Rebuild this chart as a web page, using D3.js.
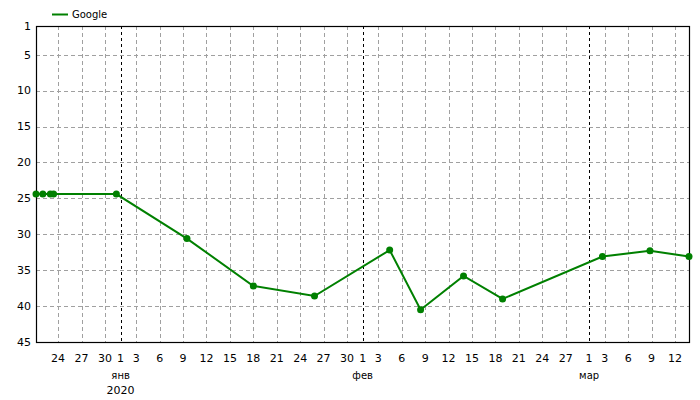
<!DOCTYPE html>
<html><head><meta charset="utf-8">
<script src="https://cdn.jsdelivr.net/npm/d3@7"></script>
<style>body{margin:0;background:#fff;} text{font-family:"DejaVu Sans",Verdana,sans-serif;}</style>
</head><body><svg id="c" width="700" height="400"></svg>
<script>
const seriesName = "Google";
const dates = ["2019-12-21T04:00","2019-12-22T01:00","2019-12-23T00:00","2019-12-23T10:00","2019-12-31T11:00",
  "2020-01-09T12:00","2020-01-18T00:00","2020-01-25T20:00","2020-02-04T11:00","2020-02-08T10:00",
  "2020-02-13T22:00","2020-02-18T22:00","2020-03-02T17:00","2020-03-08T19:00","2020-03-13T19:00"];
const positions = [24.4,24.4,24.4,24.4,24.4,30.6,37.2,38.6,32.2,40.5,35.8,39.0,33.1,32.3,33.1];
const yTicks = [1,5,10,15,20,25,30,35,40,45];
const xTickDates = ["2019-12-24","2019-12-27","2019-12-30","2020-01-01","2020-01-03","2020-01-06","2020-01-09","2020-01-12","2020-01-15","2020-01-18","2020-01-21","2020-01-24","2020-01-27","2020-01-30","2020-02-01","2020-02-03","2020-02-06","2020-02-09","2020-02-12","2020-02-15","2020-02-18","2020-02-21","2020-02-24","2020-02-27","2020-03-01","2020-03-03","2020-03-06","2020-03-09","2020-03-12"];
const monthStarts = ["2020-01-01","2020-02-01","2020-03-01"];
const monthLabels = ["янв","фев","мар"];
const yearLabel = "2020";

const parse = d3.timeParse("%Y-%m-%dT%H:%M");
const parseD = d3.timeParse("%Y-%m-%d");
const data = dates.map((d,i)=>({t:parse(d), v:positions[i]}));
const ticks = xTickDates.map(parseD);
const months = monthStarts.map(parseD);

const L=36,R=689,T=26,B=342;
const svg=d3.select("#c");
const x=d3.scaleTime().domain(d3.extent(data,d=>d.t)).range([L,R]);
const y=d3.scaleLinear().domain([1,45]).range([T,B]);

// horizontal grid
svg.append("g").selectAll("line").data(yTicks.filter(v=>v!==1&&v!==45)).join("line")
  .attr("x1",L).attr("x2",R).attr("y1",d=>Math.round(y(d))+0.5).attr("y2",d=>Math.round(y(d))+0.5)
  .attr("stroke","#a0a0a0").attr("stroke-dasharray","4,3");
// vertical grid
const isMonth = d=>months.some(m=>+m===+d);
svg.append("g").selectAll("line").data(ticks.filter(d=>!isMonth(d))).join("line")
  .attr("x1",d=>Math.round(x(d))+0.5).attr("x2",d=>Math.round(x(d))+0.5).attr("y1",T).attr("y2",B)
  .attr("stroke","#a0a0a0").attr("stroke-dasharray","4,3");
svg.append("g").selectAll("line").data(months).join("line")
  .attr("x1",d=>Math.round(x(d))+0.5).attr("x2",d=>Math.round(x(d))+0.5).attr("y1",T).attr("y2",B)
  .attr("stroke","#000").attr("stroke-dasharray","3,3");

// frame
svg.append("rect").attr("x",L+0.5).attr("y",T+0.5).attr("width",R-L).attr("height",B-T)
  .attr("fill","none").attr("stroke","#000").attr("stroke-width",1.2);

// y axis labels
svg.append("g").selectAll("text").data(yTicks).join("text")
  .attr("x",L-5).attr("y",d=>y(d)).attr("dy","0.35em").attr("text-anchor","end")
  .attr("font-size",11).attr("fill","#000").text(d=>d);

// x tick labels
svg.append("g").selectAll("text").data(ticks).join("text")
  .attr("x",d=>x(d)).attr("y",362).attr("text-anchor","middle")
  .attr("font-size",11).attr("fill","#000").text(d=>d3.timeFormat("%-d")(d));
svg.append("g").selectAll("text").data(months).join("text")
  .attr("x",d=>x(d)).attr("y",379).attr("text-anchor","middle")
  .attr("font-size",10).attr("fill","#000").text((d,i)=>monthLabels[i]);
svg.append("text").attr("x",x(months[0])).attr("y",394).attr("text-anchor","middle")
  .attr("font-size",11).attr("fill","#000").text(yearLabel);

// line
svg.append("path").datum(data).attr("fill","none").attr("stroke","#008000").attr("stroke-width",2)
  .attr("d",d3.line().x(d=>x(d.t)).y(d=>y(d.v)));
svg.append("g").selectAll("circle").data(data).join("circle")
  .attr("cx",d=>x(d.t)).attr("cy",d=>y(d.v)).attr("r",3.5).attr("fill","#008000");

// legend
svg.append("line").attr("x1",52).attr("x2",68).attr("y1",14.5).attr("y2",14.5).attr("stroke","#008000").attr("stroke-width",2);
svg.append("text").attr("x",72).attr("y",18).attr("font-size",10).attr("fill","#000").text(seriesName);
</script></body></html>
